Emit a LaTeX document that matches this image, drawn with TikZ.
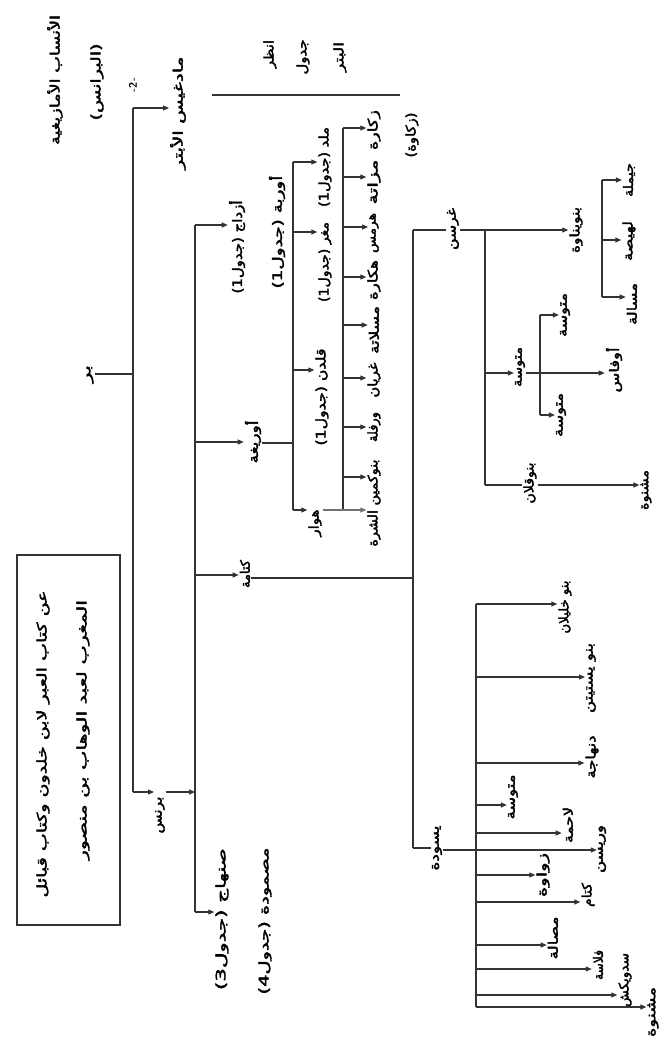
\documentclass[tikz,border=0pt]{standalone}
\usepackage{fontspec}
\usepackage{graphicx}
\usetikzlibrary{arrows.meta}
\TeXXeTstate=1
\newfontfamily\arfont[Script=Arabic,BoldFont={DejaVu Sans},BoldFeatures={FakeBold=2.5}]{DejaVu Sans}
\newcommand\AR[2]{\resizebox{#1pt}{\height}{\arfont\bfseries #2}}
\tikzset{
  lbl/.style={rotate=90, inner sep=1pt, font=\fontsize{13}{15}\selectfont},
  ln/.style={line width=1.1pt, draw=black!80},
  arr/.style={ln, -{Triangle[length=6pt,width=5pt]}},
}
\begin{document}
\begin{tikzpicture}[x=1pt,y=-1pt]
\path[use as bounding box, fill=white] (0,0) rectangle (668,1044);

% header
\node[lbl] (title) at (55,80) {\AR{130}{\beginR الأنساب الأمازيغية\endR}};
\node[lbl] (baranis) at (97,82) {\AR{77}{\beginR (البرانس)\endR}};
\node[lbl, font=\fontsize{11}{12}\selectfont\sffamily\bfseries] (pg) at (133,85) {-2-};
\node[lbl] (madghis) at (178,113) {\AR{113}{\beginR مادغيس الأبتر\endR}};
\node[lbl] (see1) at (270,54) {\AR{28}{\beginR انظر\endR}};
\node[lbl] (see2) at (303,57) {\AR{35}{\beginR جدول\endR}};
\node[lbl] (see3) at (340,57) {\AR{30}{\beginR البتر\endR}};
\coordinate (sepA) at (212,95); \coordinate (sepB) at (400,95);
\draw[ln] (sepA) -- (sepB);

% source box
\node[draw=black!80, line width=1.1pt, minimum width=103pt, minimum height=370pt, inner sep=0pt] (srcbox) at (68.5,740) {};
\node[lbl] (src1) at (43,744) {\AR{307}{\beginR عن كتاب العبر لابن خلدون وكتاب قبائل\endR}};
\node[lbl] (src2) at (83,730) {\AR{260}{\beginR المغرب لعبد الوهاب بن منصور\endR}};

% trunk
\node[lbl] (bar) at (90,374) {\AR{18}{\beginR بر\endR}};
\coordinate (t1) at (133,108); \coordinate (t2) at (133,792); \coordinate (tb) at (133,374);
\draw[ln] (bar.south |- tb) -- (tb);
\draw[ln] (t1) -- (t2);
\draw[arr] (t1) -- (t1 -| madghis.north);
\node[lbl] (burnus) at (160,815) {\AR{37}{\beginR برنس\endR}};
\draw[arr] (t2) -- (t2 -| burnus.north);
\coordinate (b1) at (195,225); \coordinate (b2) at (195,912); \coordinate (bm) at (195,792);
\coordinate (b3) at (195,442); \coordinate (b4) at (195,575);
\draw[arr] (burnus.south |- bm) -- (bm);
\draw[ln] (b1) -- (b2);
\node[lbl] (azdaj) at (237,247) {\AR{93}{\beginR أزداج (جدول1)\endR}};
\node[lbl] (awraba) at (277,232) {\AR{113}{\beginR أوربة (جدول1)\endR}};
\draw[arr] (b1) -- (b1 -| azdaj.north);
\node[lbl] (awrigha) at (253,442) {\AR{43}{\beginR أوريغة\endR}};
\draw[arr] (b3) -- (b3 -| awrigha.north);
\node[lbl] (kutama) at (245,574) {\AR{28}{\beginR كتامة\endR}};
\draw[arr] (b4) -- (b4 -| kutama.north);
\node[lbl] (sanhaja) at (222,919) {\AR{142}{\beginR صنهاج (جدول3)\endR}};
\node[lbl] (masmuda) at (265,921) {\AR{147}{\beginR مصمودة (جدول4)\endR}};
\draw[arr] (b2) -- (b2 -| sanhaja.north);

% Awrigha subtree
\coordinate (a0) at (293,443); \coordinate (a1) at (293,162); \coordinate (a2) at (293,232);
\coordinate (a3) at (293,370); \coordinate (a4) at (293,510);
\draw[ln] (awrigha.south |- a0) -- (a0);
\draw[ln] (a1) -- (a4);
\node[lbl] (malad) at (325,167) {\AR{80}{\beginR ملد (جدول1)\endR}};
\node[lbl] (maghar) at (325,262) {\AR{80}{\beginR مغر (جدول1)\endR}};
\node[lbl] (qaldan) at (322,397) {\AR{97}{\beginR قلدن (جدول1)\endR}};
\node[lbl] (hawwar) at (315,523) {\AR{27}{\beginR هوار\endR}};
\draw[arr] (a1) -- (a1 -| malad.north);
\draw[arr] (a2) -- (a2 -| maghar.north);
\draw[arr] (a3) -- (a3 -| qaldan.north);
\draw[arr] (a4) -- (a4 -| hawwar.north);

% Hawwar subtree
\coordinate (hj0) at (343,128); \coordinate (hj9) at (343,510);
\draw[ln] (hj0) -- (hj9);
\foreach \i/\y/\ly/\len/\t in {1/128/130/40/\beginR زكارة\endR, 2/177/182/45/\beginR مزاتة\endR, 3/227/233/40/\beginR هرمس\endR, 4/277/280/40/\beginR هكارة\endR, 5/325/330/48/\beginR مسلاتة\endR, 6/378/380/35/\beginR غريان\endR, 7/427/427/30/\beginR ورفلة\endR, 8/477/503/87/\beginR بنوكمين الشرة\endR}{
  \coordinate (hj\i) at (343,\y);
  \node[lbl] (hl\i) at (374,\ly) {\AR{\len}{\t}};
  \draw[arr] (hj\i) -- (hj\i -| hl\i.north);
}
\draw[arr, draw=black!55] (hawwar.south |- hj9) -- (hj9 -| hl8.north);
\node[lbl] (zk2) at (412,135) {\AR{45}{\beginR (زكاوة)\endR}};

% Kutama subtree
\coordinate (k0) at (413,578); \coordinate (kt) at (413,230); \coordinate (kb) at (413,848);
\draw[ln] (kutama.south |- k0) -- (k0);
\draw[ln] (kt) -- (kb);
\node[lbl] (ghursan) at (453,229) {\AR{42}{\beginR غرسن\endR}};
\draw[ln] (kt) -- (kt -| ghursan.north);
\node[lbl] (yanawa) at (576,230) {\AR{46}{\beginR بنويناوة\endR}};
\draw[arr] (ghursan.south |- kt) -- (kt -| yanawa.north);
\coordinate (g1) at (485,230); \coordinate (g2) at (485,373); \coordinate (g3) at (485,485);
\draw[ln] (g1) -- (g3);
\node[lbl] (mt0) at (520,367) {\AR{40}{\beginR متوسة\endR}};
\draw[arr] (g2) -- (g2 -| mt0.north);
\node[lbl] (awfas) at (614,370) {\AR{45}{\beginR أوفاس\endR}};
\draw[arr] (mt0.south |- g2) -- (g2 -| awfas.north);
\coordinate (m1) at (540,315); \coordinate (m2) at (540,415);
\draw[ln] (m1) -- (m2);
\node[lbl] (mt1) at (565,315) {\AR{44}{\beginR متوسة\endR}};
\node[lbl] (mt2) at (561,415) {\AR{44}{\beginR متوسة\endR}};
\draw[arr] (m1) -- (m1 -| mt1.north);
\draw[arr] (m2) -- (m2 -| mt2.north);
\node[lbl] (qallan) at (530,483) {\AR{41}{\beginR بنوقلان\endR}};
\draw[ln] (g3) -- (g3 -| qallan.north);
\node[lbl] (mashnuwa) at (646,490) {\AR{40}{\beginR مشنوة\endR}};
\draw[arr] (qallan.south |- g3) -- (g3 -| mashnuwa.north);
\coordinate (y1) at (602,180); \coordinate (y2) at (602,240); \coordinate (y3) at (602,297);
\draw[ln] (y1) -- (y3);
\node[lbl] (jimla) at (629,180) {\AR{34}{\beginR جيملة\endR}};
\node[lbl] (lahisa) at (629,241) {\AR{40}{\beginR لهيصة\endR}};
\node[lbl] (masala) at (632,304) {\AR{42}{\beginR مسالة\endR}};
\draw[arr] (y1) -- (y1 -| jimla.north);
\draw[arr] (y2) -- (y2 -| lahisa.north);
\draw[arr] (y3) -- (y3 -| masala.north);

% Yasuda subtree
\node[lbl] (yasuda) at (437,848) {\AR{45}{\beginR يسودة\endR}};
\draw[ln] (kb) -- (kb -| yasuda.north);
\coordinate (vtop) at (476,604); \coordinate (vbot) at (476,1007); \coordinate (v6) at (476,850);
\draw[ln] (vtop) -- (vbot);
\foreach \i/\y/\lx/\ly/\len/\t in {1/604/565/607/53/\beginR بنو خليلان\endR, 2/677/591/678/70/\beginR بنو يستيتن\endR, 3/763/592/757/43/\beginR دنهاجة\endR, 4/805/513/797/45/\beginR متوسة\endR, 5/833/568/825/36/\beginR لاحمة\endR, 7/875/543/875/44/\beginR زواوة\endR, 8/902/588/895/24/\beginR كتام\endR, 9/945/553/938/43/\beginR مصالة\endR, 10/969/598/965/30/\beginR فلاسة\endR, 11/995/625/980/54/\beginR سدويكش\endR, 12/1007/653/1012/50/\beginR مشنوة\endR}{
  \coordinate (vj\i) at (476,\y);
  \node[lbl] (vl\i) at (\lx,\ly) {\AR{\len}{\t}};
  \draw[arr] (vj\i) -- (vj\i -| vl\i.north);
}
\node[lbl] (vl6) at (602,849) {\AR{48}{\beginR وريسن\endR}};
\draw[arr] (yasuda.south |- v6) -- (v6 -| vl6.north);
\end{tikzpicture}
\end{document}
